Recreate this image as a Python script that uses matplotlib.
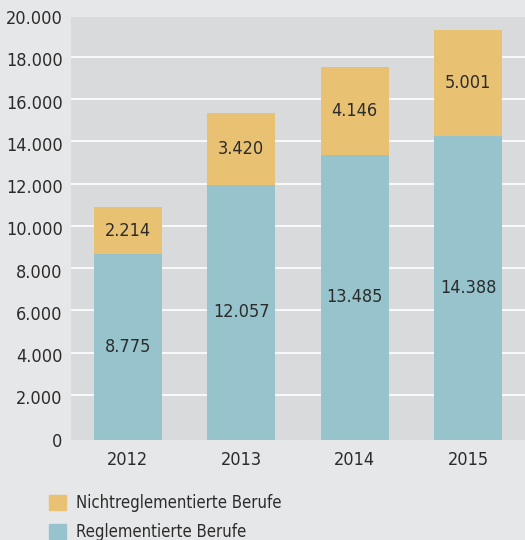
import matplotlib
matplotlib.use("Agg")
import matplotlib.pyplot as plt
from matplotlib.patches import Patch
from matplotlib.transforms import ScaledTranslation

years = ["2012", "2013", "2014", "2015"]
reglementiert = [8775, 12057, 13485, 14388]
nicht_reglementiert = [2214, 3420, 4146, 5001]
yticks = [0, 2000, 4000, 6000, 8000, 10000, 12000, 14000, 16000, 18000, 20000]

blue = "#97c4cc"
yellow = "#e8c272"
text_col = "#2b2b2b"

plt.rcParams["font.family"] = ["DejaVu Sans"]
plt.rcParams["font.stretch"] = "condensed"


def de_fmt(v):
    return f"{v:,}".replace(",", ".")


fig = plt.figure(figsize=(5.25, 5.4), dpi=100, facecolor="#e6e7e9")
ax = fig.add_axes([0.1352, 0.1861, 0.8648, 0.7824])
ax.set_facecolor("#d9dadc")

x = range(len(years))
b1 = ax.bar(x, reglementiert, width=0.6, color=blue, zorder=2)
b2 = ax.bar(x, nicht_reglementiert, width=0.6, bottom=reglementiert, color=yellow, zorder=2)
ax.bar_label(b1, labels=[de_fmt(v) for v in reglementiert], label_type="center",
             fontsize=13, color=text_col)
ax.bar_label(b2, labels=[de_fmt(v) for v in nicht_reglementiert], label_type="center",
             fontsize=13, color=text_col)

ax.set_xlim(-0.5, 3.5)
ax.set_ylim(0, 20000)
ax.set_xticks(list(x))
ax.set_xticklabels(years)
ax.set_yticks(yticks)
ax.set_yticklabels([de_fmt(v) for v in yticks])
ax.tick_params(axis="both", length=0, labelsize=13, colors=text_col)
ax.tick_params(axis="y", pad=6)
ax.tick_params(axis="x", pad=8)

# white gridlines, sitting a few pixels above the value they mark (as in the original)
grid_tr = ax.get_yaxis_transform() + ScaledTranslation(0, 2.5 / 100, fig.dpi_scale_trans)
for v in yticks[1:-1]:
    ax.plot([0, 1], [v, v], color="white", linewidth=1.2, zorder=1, transform=grid_tr)

for s in ax.spines.values():
    s.set_visible(False)

handles = [Patch(color=yellow, label="Nichtreglementierte Berufe"),
           Patch(color=blue, label="Reglementierte Berufe")]
fig.legend(handles=handles, loc="upper left", bbox_to_anchor=(0.094, 0.085),
           frameon=False, fontsize=12, handlelength=1.0, handleheight=1.0,
           handletextpad=0.6, labelspacing=0.65, borderaxespad=0, borderpad=0,
           labelcolor=text_col)

fig.savefig("out.png", dpi=100, facecolor=fig.get_facecolor())
